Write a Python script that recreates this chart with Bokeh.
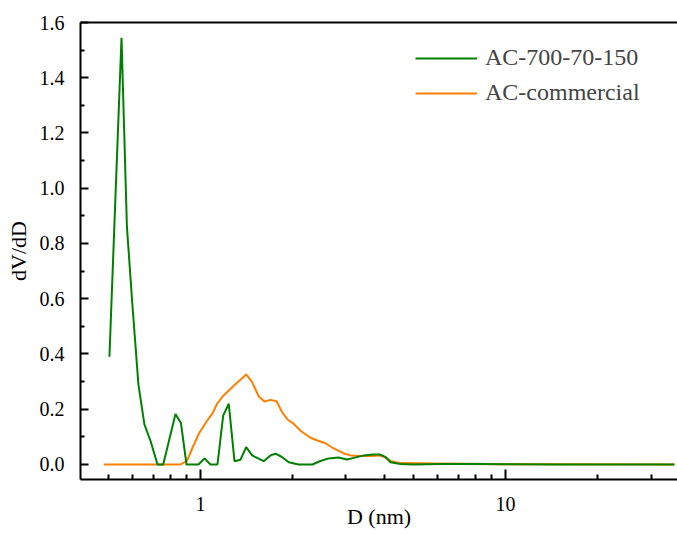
from bokeh.plotting import figure
from bokeh.models import Range1d, FixedTicker, LogAxis, Legend, LegendItem, NumeralTickFormatter
from bokeh.embed import file_html
from bokeh.resources import INLINE

# Pore size distribution, D in nm
d_green = [0.503, 0.526, 0.551, 0.574, 0.598, 0.626, 0.655, 0.686, 0.723, 0.755,
           0.828, 0.863, 0.900, 0.985, 1.031, 1.078, 1.137, 1.187, 1.238, 1.293,
           1.352, 1.412, 1.477, 1.612, 1.696, 1.762, 1.844, 1.948, 2.096, 2.329,
           2.437, 2.629, 2.835, 3.027, 3.183, 3.431, 3.664, 3.890, 4.044, 4.198,
           4.527, 4.993, 6.12, 7.68, 10.0, 15.1, 23.8, 35.8]
v_green = [0.39, 0.96, 1.545, 0.86, 0.58, 0.29, 0.145, 0.085, 0.0, 0.0,
           0.183, 0.15, 0.0, 0.0, 0.022, 0.0, 0.0, 0.177, 0.22, 0.012,
           0.017, 0.063, 0.033, 0.012, 0.033, 0.039, 0.028, 0.008, 0.0, 0.0,
           0.010, 0.022, 0.025, 0.018, 0.024, 0.033, 0.036, 0.036, 0.027, 0.008,
           0.002, 0.0, 0.002, 0.002, 0.001, 0.0, 0.0, 0.0]

d_orange = [0.482, 0.860, 0.904, 0.939, 0.987, 1.052, 1.092, 1.134, 1.181, 1.283,
            1.412, 1.477, 1.553, 1.621, 1.696, 1.775, 1.853, 1.933, 2.018, 2.128,
            2.295, 2.418, 2.569, 2.735, 2.951, 3.104, 3.346, 3.609, 3.843, 4.012,
            4.198, 4.527, 5.807, 7.507, 9.63, 15.1, 35.8]
v_orange = [0.0, 0.0, 0.014, 0.057, 0.111, 0.159, 0.183, 0.22, 0.246, 0.284,
            0.326, 0.298, 0.246, 0.228, 0.234, 0.229, 0.189, 0.162, 0.148, 0.122,
            0.097, 0.087, 0.077, 0.058, 0.040, 0.033, 0.031, 0.031, 0.033, 0.027,
            0.013, 0.005, 0.004, 0.003, 0.001, 0.001, 0.0]

x_major = [1, 10]
x_minor = [0.5, 0.6, 0.7, 0.8, 0.9, 2, 3, 4, 5, 6, 7, 8, 9, 20, 30]
y_major = [0.0, 0.2, 0.4, 0.6, 0.8, 1.0, 1.2, 1.4, 1.6]
y_minor = [0.1, 0.3, 0.5, 0.7, 0.9, 1.1, 1.3, 1.5]

FONT = "Liberation Serif"

p = figure(width=677, height=534, x_axis_type="log",
           x_range=Range1d(0.4043, 36.64), y_range=Range1d(-0.0543, 1.6),
           output_backend="svg", toolbar_location=None,
           min_border_left=80, min_border_right=0, min_border_top=22, min_border_bottom=55,
           outline_line_color=None)
p.grid.visible = False

r_orange = p.line(d_orange, v_orange, line_color="#ff7f00", line_width=2)
r_green = p.line(d_green, v_green, line_color="#008000", line_width=2)

# x axis
xa = p.xaxis[0]
xa.ticker = FixedTicker(ticks=x_major, minor_ticks=x_minor)
xa.formatter = NumeralTickFormatter(format="0")
xa.axis_label = "D (nm)"
# y axis
ya = p.yaxis[0]
ya.ticker = FixedTicker(ticks=y_major, minor_ticks=y_minor)
ya.formatter = NumeralTickFormatter(format="0.0")
ya.axis_label = "dV/dD"

for ax, mj, mn in ((xa, 10, 5), (ya, 8, 4)):
    ax.axis_line_width = 2
    ax.axis_line_color = "black"
    ax.major_tick_in = mj
    ax.major_tick_out = 0
    ax.minor_tick_in = mn
    ax.minor_tick_out = 0
    ax.major_tick_line_width = 2
    ax.minor_tick_line_width = 2
    ax.major_label_text_font = FONT
    ax.major_label_text_font_size = "20px"
    ax.major_label_text_color = "black"
    ax.axis_label_text_font = FONT
    ax.axis_label_text_font_size = "22px"
    ax.axis_label_text_font_style = "normal"
    ax.axis_label_text_color = "black"

xa.major_label_standoff = 17
xa.axis_label_standoff = -10
ya.major_label_standoff = 16
ya.axis_label_standoff = 6

# top frame line
top = LogAxis(ticker=FixedTicker(ticks=[]), major_label_text_font_size="0px",
              axis_line_width=2, major_tick_line_color=None, minor_tick_line_color=None)
p.add_layout(top, "above")

legend = Legend(items=[LegendItem(label="AC-700-70-150", renderers=[r_green]),
                       LegendItem(label="AC-commercial", renderers=[r_orange])],
                location=(335, 373), border_line_color=None, background_fill_alpha=0,
                padding=0, margin=0, glyph_width=62, glyph_height=26, label_height=26,
                label_standoff=8, spacing=8, label_text_font=FONT,
                label_text_font_size="24px")
p.add_layout(legend)

open("out.html", "w").write(file_html(p, INLINE))
